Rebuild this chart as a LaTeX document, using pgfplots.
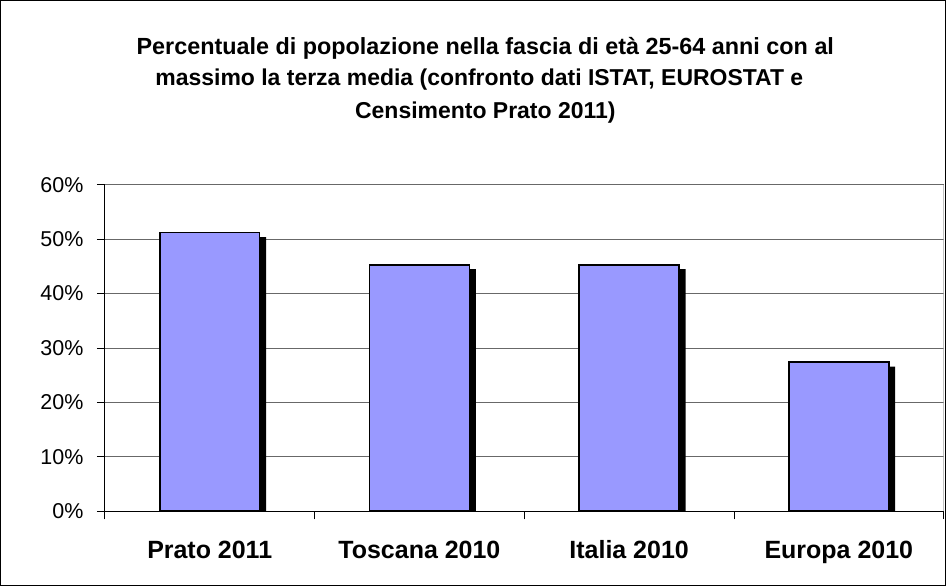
\documentclass[border=0pt]{standalone}
\usepackage{pgfplots}
\pgfplotsset{compat=1.18}
\usepackage{fontspec}
\setmainfont{Liberation Sans}
\definecolor{barblue}{HTML}{9999FF}
\definecolor{gridgray}{HTML}{686868}
\definecolor{framegray}{HTML}{A0A0A0}

\begin{document}
\begin{tikzpicture}[x=1pt,y=1pt]
% outer frame of the chart
\draw[line width=1pt] (0.5,0.5) rectangle (946.5,586.5);
% title, three lines
\node[font=\bfseries\fontsize{23.4}{27}\selectfont] at (486,539)
  {Percentuale di popolazione nella fascia di età 25-64 anni con al};
\node[font=\bfseries\fontsize{23}{27}\selectfont] at (480,507)
  {massimo la terza media (confronto dati ISTAT, EUROSTAT e};
\node[font=\bfseries\fontsize{23}{27}\selectfont] at (486,474)
  {Censimento Prato 2011)};

\begin{axis}[
    at={(105pt,75pt)}, anchor=south west,
    scale only axis, width=840pt, height=327pt,
    xmin=-0.5, xmax=3.5, ymin=0, ymax=60,
    ytick={0,10,...,60},
    yticklabel={\pgfmathprintnumber{\tick}\%},
    /pgf/number format/assume math mode=true,
    yticklabel style={font=\fontsize{21.5}{25}\selectfont, xshift=-10pt},
    ymajorgrids, grid style={gridgray, line width=0.8pt},
    axis x line*=bottom, axis y line*=left,
    axis line style={black, line width=1pt, -},
    tick align=outside, major tick length=8pt,
    tick style={black, line width=0.8pt},
    xtick={-0.5,0.5,1.5,2.5,3.5}, xticklabels={},
    extra x ticks={0,1,2,3},
    extra x tick labels={Prato 2011,Toscana 2010,Italia 2010,Europa 2010},
    extra x tick style={major tick length=0pt, grid=none,
      xticklabel style={font=\bfseries\fontsize{25}{29}\selectfont, yshift=-26pt}},
    ybar, bar width=100pt,
  ]
  % drop shadow behind the bars
  \addplot[fill=black, draw=none, bar shift=6.5pt, yshift=-4.5pt, forget plot]
    coordinates {(0,51.2) (1,45.3) (2,45.3) (3,27.4)};
  \addplot[fill=barblue, draw=black, line width=1.6pt, bar shift=0pt]
    coordinates {(0,51.2) (1,45.3) (2,45.3) (3,27.4)};
  \draw[framegray, line width=0.8pt] (rel axis cs:1,0) -- (rel axis cs:1,1);
\end{axis}
\end{tikzpicture}
\end{document}
